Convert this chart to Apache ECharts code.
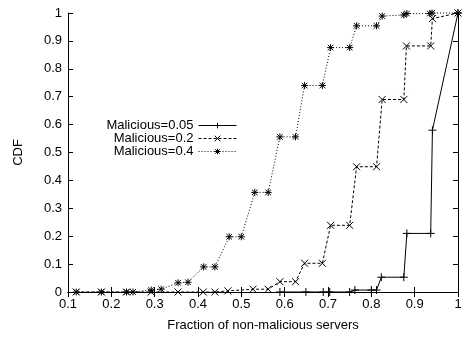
<!DOCTYPE html>
<html>
<head>
<meta charset="utf-8">
<script src="https://cdn.jsdelivr.net/npm/echarts@6/dist/echarts.min.js"></script>
<style>
html,body{margin:0;padding:0;background:#fff;}
#c{width:466px;height:337px;}
</style>
</head>
<body>
<div id="c"></div>
<script>
var seriesNames = ['Malicious=0.05', 'Malicious=0.2', 'Malicious=0.4'];
var xTicks = [0.1, 0.2, 0.3, 0.4, 0.5, 0.6, 0.7, 0.8, 0.9, 1];
var yTicks = [0, 0.1, 0.2, 0.3, 0.4, 0.5, 0.6, 0.7, 0.8, 0.9, 1];

var m005 = [[0.589,0],[0.649,0],[0.689,0],[0.704,0],[0.75,0],[0.762,0.007],[0.80,0.007],[0.812,0.007],
  [0.823,0.053],[0.875,0.053],[0.882,0.21],[0.937,0.21],[0.941,0.58],[1.0,1.0]];
var m02 = [[0.119,0],[0.177,0],[0.235,0],[0.292,0],[0.354,0],[0.412,0],[0.439,0],[0.469,0.004],
  [0.527,0.01],[0.562,0.01],[0.589,0.037],[0.625,0.037],[0.646,0.103],[0.687,0.103],
  [0.706,0.239],[0.75,0.239],[0.766,0.449],[0.812,0.449],[0.825,0.69],[0.875,0.69],
  [0.881,0.882],[0.937,0.882],[0.941,0.98],[1.0,1.0]];
var m04 = [[0.119,0],[0.177,0],[0.235,0],[0.25,0],[0.292,0.007],[0.315,0.01],[0.354,0.033],[0.377,0.035],
  [0.413,0.09],[0.439,0.09],[0.472,0.198],[0.50,0.198],[0.531,0.357],[0.562,0.357],
  [0.589,0.556],[0.625,0.556],[0.646,0.74],[0.687,0.74],[0.706,0.876],[0.75,0.876],
  [0.766,0.954],[0.812,0.954],[0.825,0.989],[0.875,0.993],[0.882,0.998],[0.935,0.998],
  [0.94,1.0],[1.0,1.0]];

var symPlus = 'path://M0,5L10,5M5,0L5,10';
var symCross = 'path://M0,0L10,10M10,0L0,10';
var symStar = 'path://M0,5L10,5M5,0L5,10M1,1L9,9M9,1L1,9';

var FONT = 'Liberation Sans, Arial, sans-serif';
var chart = echarts.init(document.getElementById('c'));

function axisCommon(pos, showLabel) {
  return {
    type: 'value', position: pos, min: 0.1, max: 1, interval: 0.1,
    axisLine: {show: true, lineStyle: {color: '#000', width: 1}},
    axisTick: {show: true, inside: true, length: 5, lineStyle: {color: '#000'}},
    splitLine: {show: false},
    axisLabel: {show: showLabel, color: '#000', fontSize: 13, fontFamily: FONT, margin: 6,
      formatter: function (v) { return String(+v.toFixed(2)); }}
  };
}
var x0 = axisCommon('bottom', true);
x0.name = 'Fraction of non-malicious servers';
x0.nameLocation = 'middle';
x0.nameGap = 27;
x0.nameTextStyle = {color: '#000', fontSize: 13, fontFamily: FONT};
var x1 = axisCommon('top', false);

function yCommon(pos, showLabel) {
  var a = axisCommon(pos, showLabel);
  a.min = 0; a.max = 1; a.interval = 0.1;
  return a;
}
var y0 = yCommon('left', true);
y0.name = 'CDF';
y0.nameLocation = 'middle';
y0.nameGap = 43;
y0.nameTextStyle = {color: '#000', fontSize: 13, fontFamily: FONT};
var y1 = yCommon('right', false);

function mkSeries(name, data, sym, type, size) {
  return {
    name: name, type: 'line', data: data, xAxisIndex: 0, yAxisIndex: 0,
    symbol: sym, symbolSize: size, showSymbol: true,
    lineStyle: {color: '#000', width: 1, type: type},
    itemStyle: {color: '#000', borderColor: '#000', borderWidth: 1},
    emphasis: {disabled: true}, animation: false, clip: false
  };
}

function legendAt(name, top) {
  return {
    data: [name], right: 229, top: top, align: 'right', orient: 'vertical',
    itemWidth: 38, itemHeight: 7, padding: 0, itemGap: 0,
    lineStyle: {width: 1},
    itemStyle: {borderWidth: 1, color: '#000', borderColor: '#000'},
    textStyle: {color: '#000', fontSize: 13, fontFamily: FONT}
  };
}

chart.setOption({
  animation: false,
  grid: {left: 68, right: 8, top: 13, bottom: 45, containLabel: false},
  xAxis: [x0, x1],
  yAxis: [y0, y1],
  legend: [legendAt(seriesNames[0], 119), legendAt(seriesNames[1], 132), legendAt(seriesNames[2], 145)],
  series: [
    mkSeries(seriesNames[0], m005, symPlus, 'solid', 8),
    mkSeries(seriesNames[1], m02, symCross, [3, 2], 7),
    mkSeries(seriesNames[2], m04, symStar, [1, 2], 7)
  ]
});
</script>
</body>
</html>
